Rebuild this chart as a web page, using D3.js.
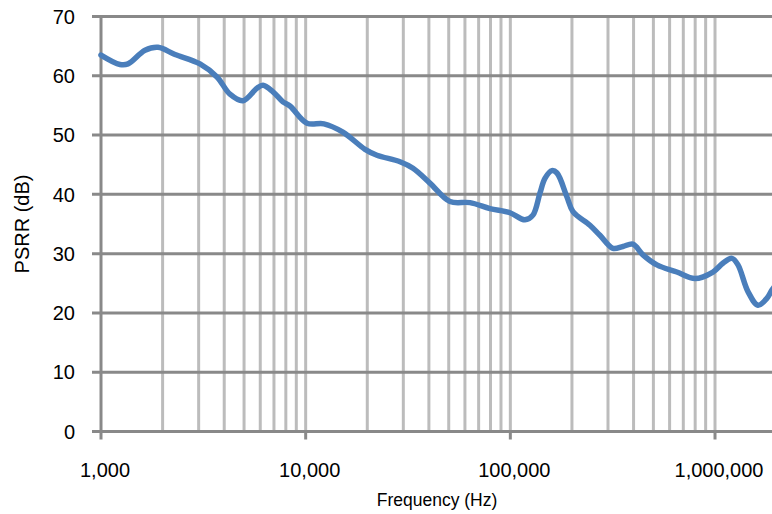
<!DOCTYPE html>
<html>
<head>
<meta charset="utf-8">
<script src="https://cdn.jsdelivr.net/npm/d3@7"></script>
<style>
  body { margin: 0; background: #fff; }
  text { font-family: "Liberation Sans", Arial, Helvetica, sans-serif; fill: #000; }
</style>
</head>
<body>
<div id="chart-area"></div>
<script>
// PSRR vs frequency
let freqHz = [1000, 1238, 1355, 1641, 1899, 2299, 3045, 3687, 4267, 4940,
    5781, 6185, 6922, 7746, 8380, 10150, 12280, 15200, 19500, 22300,
    28900, 33450, 40460, 50700, 63500, 79500, 99600, 117800, 128900, 139500,
    147600, 159700, 169000, 188900, 202300, 244800, 274000, 317000, 355000, 397000,
    444500, 520000, 651000, 798000, 977000, 1094000, 1210000, 1295000, 1449000, 1622000,
    1795000, 1900000, 2030000];
let psrrDb = [63.5, 61.9, 62.0, 64.3, 64.8, 63.6, 62.0, 59.8, 56.9, 55.8,
    57.9, 58.4, 57.3, 55.6, 54.9, 52.0, 51.9, 50.5, 47.6, 46.6,
    45.5, 44.4, 41.9, 38.8, 38.6, 37.6, 36.9, 35.7, 36.5, 40.2,
    42.7, 44.0, 43.6, 39.6, 37.1, 34.8, 33.1, 30.9, 31.2, 31.6,
    29.8, 28.1, 26.9, 25.8, 26.9, 28.4, 29.2, 28.1, 23.6, 21.3,
    22.5, 23.9, 25.2];

let yTicks = [0, 10, 20, 30, 40, 50, 60, 70];
let xTickLabels = [1000, 10000, 100000, 1000000];

let width = 772, height = 514;
let margin = {top: 16.5, left: 101, bottom: 82.5};
let decade = 204.67;

let svg = d3.select("#chart-area")
    .append("svg")
    .attr("width", width)
    .attr("height", height);

let x = d3.scaleLog()
    .domain([1e3, 1e7])
    .range([margin.left, margin.left + 4 * decade]);

let y = d3.scaleLinear()
    .domain([0, 70])
    .range([height - margin.bottom, margin.top]);

let fmt = d3.format(",");

// vertical grid (minor + decade lines), light grey
let minor = x.ticks().filter(d => d > 1000);
svg.append("g")
    .selectAll("line")
    .data(minor)
    .enter()
    .append("line")
    .attr("x1", d => x(d)).attr("x2", d => x(d))
    .attr("y1", y(70)).attr("y2", y(0))
    .style("stroke", "#bcbcbc")
    .style("stroke-width", 3);

// horizontal grid, darker grey
svg.append("g")
    .selectAll("line")
    .data(yTicks)
    .enter()
    .append("line")
    .attr("x1", margin.left - 9).attr("x2", width)
    .attr("y1", d => y(d)).attr("y2", d => y(d))
    .style("stroke", "#898989")
    .style("stroke-width", 3);

// y axis line
svg.append("line")
    .attr("x1", margin.left).attr("x2", margin.left)
    .attr("y1", y(70) - 1.5).attr("y2", y(0) + 8)
    .style("stroke", "#898989")
    .style("stroke-width", 3);

// decade tick marks below x axis
svg.append("g")
    .selectAll("line")
    .data(xTickLabels.slice(1))
    .enter()
    .append("line")
    .attr("x1", d => x(d)).attr("x2", d => x(d))
    .attr("y1", y(0)).attr("y2", y(0) + 8)
    .style("stroke", "#898989")
    .style("stroke-width", 3);

// y tick labels
svg.append("g")
    .selectAll("text")
    .data(yTicks)
    .enter()
    .append("text")
    .attr("x", margin.left - 26)
    .attr("y", d => y(d))
    .attr("dy", "0.36em")
    .attr("text-anchor", "end")
    .style("font-size", "20px")
    .text(d => d);

// x tick labels
svg.append("g")
    .selectAll("text")
    .data(xTickLabels)
    .enter()
    .append("text")
    .attr("x", d => x(d) + 4)
    .attr("y", 477)
    .attr("text-anchor", "middle")
    .style("font-size", "20px")
    .text(d => fmt(d));

// axis titles
svg.append("text")
    .attr("x", 437)
    .attr("y", 506)
    .attr("text-anchor", "middle")
    .style("font-size", "17.5px")
    .text("Frequency (Hz)");

svg.append("text")
    .attr("transform", "translate(29,224) rotate(-90)")
    .attr("text-anchor", "middle")
    .style("font-size", "20px")
    .text("PSRR (dB)");

// the curve
let line = d3.line()
    .x((d, i) => x(freqHz[i]))
    .y(d => y(d))
    .curve(d3.curveCatmullRom);

svg.append("path")
    .datum(psrrDb)
    .attr("d", line)
    .style("fill", "none")
    .style("stroke", "#4a7ebb")
    .style("stroke-width", 5.5)
    .style("stroke-linejoin", "round")
    .style("stroke-linecap", "round");
</script>
</body>
</html>
